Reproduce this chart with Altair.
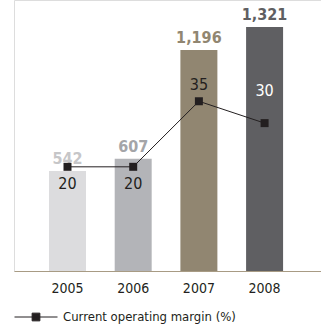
import altair as alt
import pandas as pd

years = ["2005", "2006", "2007", "2008"]
revenue = [542, 607, 1196, 1321]
margin = [20, 20, 35, 30]
bar_colors = ["#dcdcde", "#b3b4b8", "#918671", "#5f5f62"]
value_colors = ["#c6c6c8", "#a4a5a8", "#918671", "#5f5f62"]
margin_colors = ["#231f20", "#231f20", "#231f20", "#ffffff"]
series_name = "Current operating margin (%)"

df = pd.DataFrame({
    "year": years,
    "revenue": revenue,
    "margin": margin,
    "bar_color": bar_colors,
    "value_color": value_colors,
    "margin_color": margin_colors,
    "series": [series_name] * 4,
})

FONT = "'DejaVu Sans Condensed', 'Liberation Sans', sans-serif"

x = alt.X("year:N", title=None,
          scale=alt.Scale(paddingInner=0.437, paddingOuter=0.555, align=0.48),
          axis=alt.Axis(labelAngle=0, ticks=False, domainColor="#a89b84",
                        labelFontSize=14, labelColor="#231f20", labelPadding=10,
                        labelFont=FONT))
y_bar = alt.Y("revenue:Q", scale=alt.Scale(domain=[0, 1467], nice=False, zero=True), axis=None)
y_line = alt.Y("margin:Q", scale=alt.Scale(domain=[-3.84, 58.17], nice=False, zero=False), axis=None)

base = alt.Chart(df)

bars = base.mark_bar().encode(x=x, y=y_bar, color=alt.Color("bar_color:N", scale=None))
bar_labels = base.mark_text(dy=-12, baseline="middle", fontSize=16, fontWeight="bold", font=FONT).encode(
    x=x, y=y_bar, text=alt.Text("revenue:Q", format=","), color=alt.Color("value_color:N", scale=None))

bar_layer = alt.layer(bars, bar_labels)

legend = alt.Legend(title=None, orient="none", legendX=0, legendY=295, labelFont=FONT,
                    labelFontSize=13, labelColor="#231f20", labelOffset=5, labelLimit=400,
                    symbolType="M-1,0L1,0M-0.18,-0.18L0.18,-0.18L0.18,0.18L-0.18,0.18Z",
                    symbolSize=1849, symbolFillColor="#231f20", symbolStrokeColor="#231f20",
                    symbolStrokeWidth=1, padding=0)

line = base.mark_line(color="#231f20", strokeWidth=1).encode(
    x=x, y=y_line,
    color=alt.Color("series:N", scale=alt.Scale(range=["#231f20"]), legend=legend))
points = base.mark_point(shape="square", filled=True, size=64, opacity=1, color="#231f20").encode(
    x=x, y=y_line)
lab_below = base.transform_filter(alt.FieldOneOfPredicate(field="year", oneOf=["2005", "2006"])).mark_text(
    dy=17, fontSize=16, font=FONT, baseline="middle").encode(
    x=x, y=y_line, text="margin:Q", color=alt.Color("margin_color:N", scale=None))
lab_2007 = base.transform_filter(alt.datum.year == "2007").mark_text(
    dy=-16, fontSize=16, font=FONT, baseline="middle").encode(
    x=x, y=y_line, text="margin:Q", color=alt.Color("margin_color:N", scale=None))
lab_2008 = base.transform_filter(alt.datum.year == "2008").mark_text(
    dy=-32, fontSize=16, font=FONT, baseline="middle").encode(
    x=x, y=y_line, text="margin:Q", color=alt.Color("margin_color:N", scale=None))

line_layer = alt.layer(line, points, lab_below, lab_2007, lab_2008)

chart = alt.layer(bar_layer, line_layer).resolve_scale(y="independent", color="independent").properties(
    width=307, height=271,
    padding={"left": 14, "top": 0, "right": 0, "bottom": 58},
    autosize=alt.AutoSizeParams(type="none"),
).configure_view(stroke=None).configure(background="white")

chart.save("out.html", embed_options={"renderer": "svg", "actions": False})
